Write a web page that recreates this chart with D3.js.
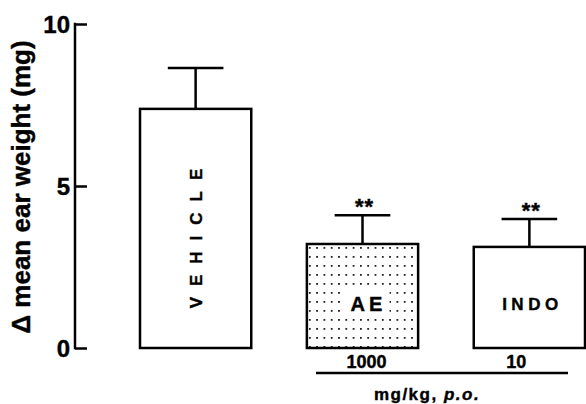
<!DOCTYPE html>
<html>
<head>
<meta charset="utf-8">
<script src="https://cdn.jsdelivr.net/npm/d3@7"></script>
<style>
  body { margin: 0; background: #fff; }
  svg text { font-family: "Liberation Sans", Arial, sans-serif; font-weight: bold; fill: #000; stroke: #000; stroke-width: 0.4px; }
</style>
</head>
<body>
<div class="chart-div"></div>
<script>
// data
var groups = ['VEHICLE', 'AE', 'INDO'];
var means = [7.38, 3.21, 3.12];
var sems = [1.26, 0.89, 0.86];
var stars = ['', '**', '**'];
var doses = ['', '1000', '10'];
var y_ticks = [0, 5, 10];

var w = 586,
    h = 404,
    axis_x = 75,
    y_top = 24,
    y_bottom = 348,
    bar_left = 140,
    bar_right = 585,
    tick_len = 12;

var svg = d3.select('.chart-div')
  .append('svg')
  .attr('width', w)
  .attr('height', h);

var x = d3.scaleBand()
  .domain(groups)
  .range([bar_left, bar_right])
  .paddingInner(1/3)
  .paddingOuter(0);

var y = d3.scaleLinear()
  .domain([0, 10])
  .range([y_bottom, y_top]);

// dotted fill for the AE bar
var defs = svg.append('defs');
var pat = defs.append('pattern')
  .attr('id', 'dots')
  .attr('patternUnits', 'userSpaceOnUse')
  .attr('width', 7.3)
  .attr('height', 9)
  .attr('x', x('AE') + 2)
  .attr('y', y(means[1]) + 3);
pat.append('rect').attr('width', 7.3).attr('height', 9).attr('fill', '#fff');
pat.append('rect').attr('x', 0).attr('y', 0).attr('width', 1.8).attr('height', 1.8).attr('fill', '#222');

// y axis
var axis = svg.append('g')
  .attr('transform', 'translate(' + axis_x + ',0)')
  .call(d3.axisRight(y).tickValues(y_ticks).tickSize(tick_len).tickFormat(''));
axis.select('.domain').remove();
axis.selectAll('line').attr('stroke', '#000').attr('stroke-width', 2.5);
svg.append('line')
  .attr('x1', axis_x).attr('x2', axis_x)
  .attr('y1', y(10) - 1.25).attr('y2', y(0) + 1.25)
  .attr('stroke', '#000').attr('stroke-width', 2.5);

svg.selectAll('.ytick-label')
  .data(y_ticks)
  .enter().append('text')
  .attr('class', 'ytick-label')
  .attr('x', axis_x - 5)
  .attr('y', function(d) { return y(d); })
  .attr('dy', '0.38em')
  .attr('text-anchor', 'end')
  .style('font-size', '24px')
  .text(function(d) { return d; });

svg.append('text')
  .attr('transform', 'translate(30,' + 187 + ') rotate(-90)')
  .attr('text-anchor', 'middle')
  .style('font-size', '26px')
  .text('\u0394 mean ear weight (mg)');

// error bars
var err = svg.selectAll('.err')
  .data(groups)
  .enter().append('g')
  .attr('class', 'err');
err.append('line')
  .attr('x1', function(d) { return x(d) + x.bandwidth()/2; })
  .attr('x2', function(d) { return x(d) + x.bandwidth()/2; })
  .attr('y1', function(d, i) { return y(means[i]); })
  .attr('y2', function(d, i) { return y(means[i] + sems[i]); })
  .attr('stroke', '#000').attr('stroke-width', 2.5);
err.append('line')
  .attr('x1', function(d) { return x(d) + x.bandwidth()/4; })
  .attr('x2', function(d) { return x(d) + 3*x.bandwidth()/4; })
  .attr('y1', function(d, i) { return y(means[i] + sems[i]); })
  .attr('y2', function(d, i) { return y(means[i] + sems[i]); })
  .attr('stroke', '#000').attr('stroke-width', 2.5);

// bars
svg.selectAll('.bar')
  .data(groups)
  .enter().append('rect')
  .attr('class', 'bar')
  .attr('x', function(d) { return x(d); })
  .attr('y', function(d, i) { return y(means[i]); })
  .attr('width', x.bandwidth())
  .attr('height', function(d, i) { return y(0) - y(means[i]); })
  .attr('fill', function(d) { return d == 'AE' ? 'url(#dots)' : '#fff'; })
  .attr('stroke', '#000')
  .attr('stroke-width', 2.5);

// significance stars
svg.selectAll('.star')
  .data(groups)
  .enter().append('text')
  .attr('class', 'star')
  .attr('x', function(d) { return x(d) + x.bandwidth()/2 + 2; })
  .attr('y', function(d, i) { return y(means[i] + sems[i]) - 1; })
  .attr('text-anchor', 'middle')
  .style('font-size', '22px')
  .style('letter-spacing', '1px')
  .text(function(d, i) { return stars[i]; });

// labels inside bars
var vx = x('VEHICLE') + x.bandwidth()/2;
svg.append('text')
  .attr('transform', 'translate(' + (vx + 6) + ',' + 233 + ') rotate(-90)')
  .attr('text-anchor', 'middle')
  .style('font-size', '17px')
  .style('letter-spacing', '11px')
  .text('VEHICLE');

var ax = x('AE') + x.bandwidth()/2 + 4;
svg.append('rect')
  .attr('x', ax - 25).attr('y', 290)
  .attr('width', 48).attr('height', 25)
  .attr('fill', '#fff')
  .attr('stroke', 'none');
svg.append('text')
  .attr('x', ax + 2)
  .attr('y', 311)
  .attr('text-anchor', 'middle')
  .style('font-size', '20px')
  .style('letter-spacing', '4px')
  .text('AE');

svg.append('text')
  .attr('x', x('INDO') + x.bandwidth()/2 + 3)
  .attr('y', 310)
  .attr('text-anchor', 'middle')
  .style('font-size', '17px')
  .style('letter-spacing', '4.5px')
  .text('INDO');

// dose labels and line
svg.selectAll('.dose')
  .data(groups)
  .enter().append('text')
  .attr('class', 'dose')
  .attr('x', function(d) { return x(d) + x.bandwidth()/2 + (d == 'INDO' ? -13 : 4); })
  .attr('y', 368)
  .attr('text-anchor', 'middle')
  .style('font-size', '18px')
  .text(function(d, i) { return doses[i]; });

svg.append('line')
  .attr('x1', 316).attr('x2', 568)
  .attr('y1', 373).attr('y2', 373)
  .attr('stroke', '#000').attr('stroke-width', 2.5);

var unit = svg.append('text')
  .attr('x', 427)
  .attr('y', 400)
  .attr('text-anchor', 'middle')
  .style('font-size', '17px')
  .style('letter-spacing', '1.5px');
unit.append('tspan').text('mg/kg, ');
unit.append('tspan').style('font-style', 'italic').text('p.o.');
</script>
</body>
</html>
